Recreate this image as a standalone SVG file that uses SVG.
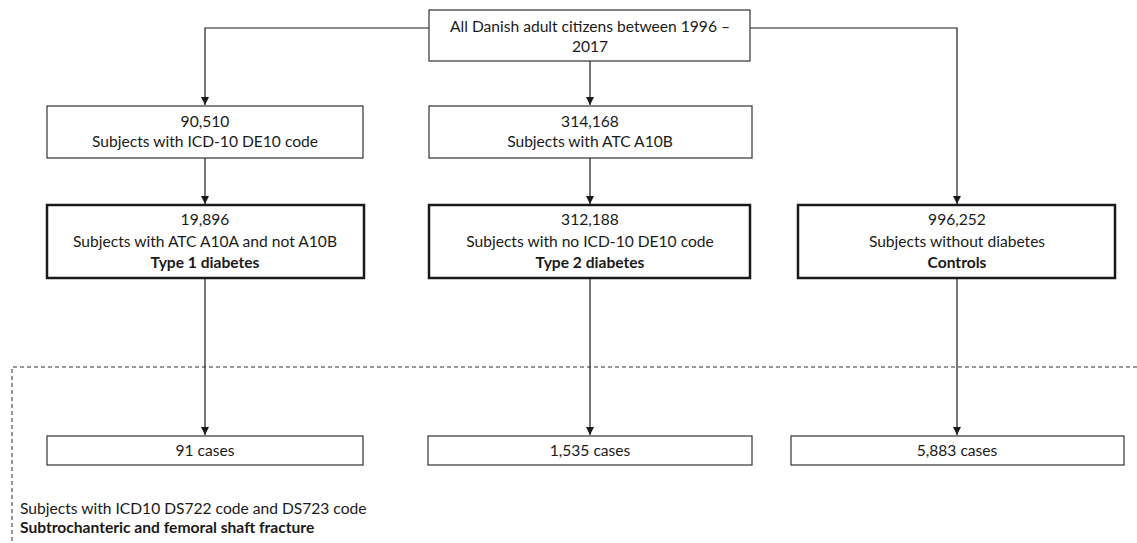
<svg xmlns="http://www.w3.org/2000/svg" width="1137" height="543" viewBox="0 0 1137 543">
<style>
text{font-family:Lato,"Open Sans","Liberation Sans",sans-serif;font-size:15.6px;fill:#1a1a1a;text-anchor:middle}
.b{font-weight:bold}
.l{text-anchor:start}
.box{fill:#fff;stroke:#333;stroke-width:1.2}
.bold{fill:#fff;stroke:#1a1a1a;stroke-width:2.5}
.c{fill:none;stroke:#1a1a1a;stroke-width:1.2}
.d{fill:none;stroke:#333;stroke-width:1;stroke-dasharray:4 3}
</style>
<defs>
<marker id="ah" viewBox="0 0 10 10" refX="10" refY="5" markerWidth="8" markerHeight="8" markerUnits="userSpaceOnUse" orient="auto">
<path d="M0,0 L10,5 L0,10 z" fill="#1a1a1a"/>
</marker>
</defs>
<g id="connectors">
<path class="c" d="M429,28 H205 V105" marker-end="url(#ah)"/>
<path class="c" d="M590,61 V105" marker-end="url(#ah)"/>
<path class="c" d="M750,28 H957 V204" marker-end="url(#ah)"/>
<path class="c" d="M205,158 V204" marker-end="url(#ah)"/>
<path class="c" d="M590,158 V204" marker-end="url(#ah)"/>
<path class="c" d="M205,278 V435" marker-end="url(#ah)"/>
<path class="c" d="M590,278 V435" marker-end="url(#ah)"/>
<path class="c" d="M957,278 V435" marker-end="url(#ah)"/>
</g>
<g id="region">
<path class="d" d="M1137,367 H12 V543"/>
<text class="l" x="20" y="514">Subjects with ICD10 DS722 code and DS723 code</text>
<text class="l b" x="20" y="533">Subtrochanteric and femoral shaft fracture</text>
</g>
<g id="all">
<rect class="box" x="429" y="10" width="321" height="51"/>
<text x="590" y="32">All Danish adult citizens between 1996 –</text>
<text x="590" y="52">2017</text>
</g>
<g id="icd">
<rect class="box" x="47" y="106" width="316" height="52"/>
<text x="205" y="127">90,510</text>
<text x="205" y="147">Subjects with ICD-10 DE10 code</text>
</g>
<g id="atc">
<rect class="box" x="429" y="106" width="323" height="52"/>
<text x="590" y="127">314,168</text>
<text x="590" y="147">Subjects with ATC A10B</text>
</g>
<g id="t1">
<rect class="bold" x="47" y="205" width="317" height="73"/>
<text x="205" y="225">19,896</text>
<text x="205" y="247">Subjects with ATC A10A and not A10B</text>
<text class="b" x="205" y="268">Type 1 diabetes</text>
</g>
<g id="t2">
<rect class="bold" x="429" y="205" width="321" height="73"/>
<text x="590" y="225">312,188</text>
<text x="590" y="247">Subjects with no ICD-10 DE10 code</text>
<text class="b" x="590" y="268">Type 2 diabetes</text>
</g>
<g id="ctrl">
<rect class="bold" x="798" y="205" width="317" height="73"/>
<text x="957" y="225">996,252</text>
<text x="957" y="247">Subjects without diabetes</text>
<text class="b" x="957" y="268">Controls</text>
</g>
<g id="c1">
<rect class="box" x="47" y="436" width="316" height="29"/>
<text x="205" y="456">91 cases</text>
</g>
<g id="c2">
<rect class="box" x="428" y="436" width="324" height="29"/>
<text x="590" y="456">1,535 cases</text>
</g>
<g id="c3">
<rect class="box" x="791" y="436" width="333" height="29"/>
<text x="957" y="456">5,883 cases</text>
</g>
</svg>
